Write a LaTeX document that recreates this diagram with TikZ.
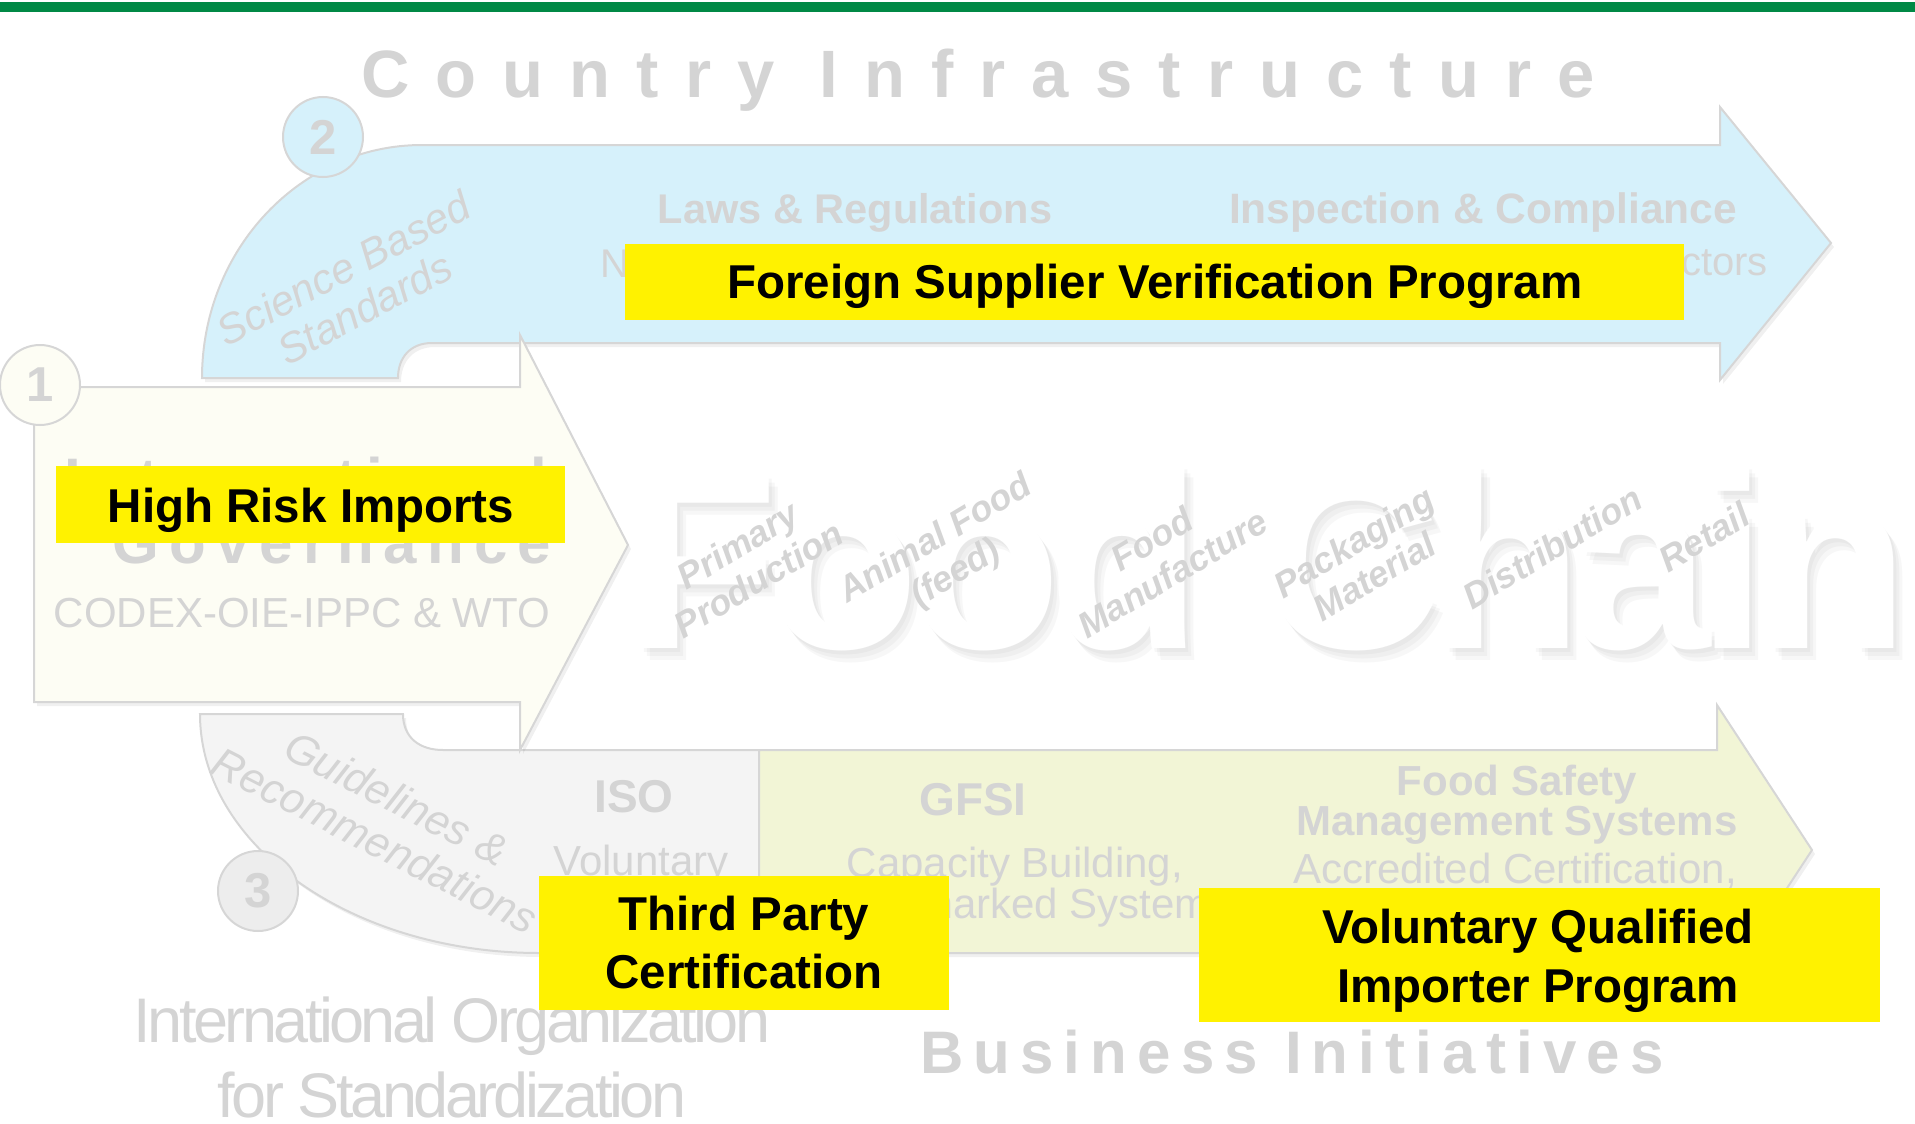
\documentclass[tikz,border=0pt]{standalone}
\usepackage{fontspec}
\setmainfont{Liberation Sans}
\usetikzlibrary{positioning}
\usetikzlibrary{shadows}
\definecolor{barGreen}{RGB}{0,137,69}
\definecolor{ghostGray}{RGB}{212,212,212}
\definecolor{edgeGray}{RGB}{214,214,214}
\definecolor{skyBand}{RGB}{214,241,251}
\definecolor{creamBand}{RGB}{253,253,244}
\definecolor{greyBand}{RGB}{244,244,244}
\definecolor{oliveBand}{RGB}{242,245,214}
\newcommand{\fsz}[1]{\fontsize{#1}{#1}\selectfont}
\newcommand{\chainfont}{\bfseries\fsz{252}\addfontfeature{LetterSpace=-5}}
\tikzstyle{band} = [draw=edgeGray,line width=2pt,drop shadow={opacity=0.12,shadow xshift=3pt,shadow yshift=-4pt}]
\tikzstyle{num} = [circle,draw=edgeGray,line width=2pt,minimum size=80pt,inner sep=0pt,text=ghostGray,font=\bfseries\fsz{49}]
\tikzstyle{ghost} = [text=ghostGray,inner sep=0pt]
\tikzstyle{stage} = [ghost,rotate=31,align=center,font=\bfseries\itshape\fontsize{36}{40}\selectfont]
\tikzstyle{haze} = [anchor=base west,inner sep=0pt,text=black,text opacity=0.03,font=\chainfont]
\tikzstyle{note} = [fill=yellow,inner sep=0pt]
\tikzstyle{hi} = [inner sep=0pt,anchor=base,font=\bfseries\fsz{47.5}]

\begin{document}
\begin{tikzpicture}[x=1pt,y=-1pt]
  \useasboundingbox (0,0) rectangle (1915,1124);
  \fill [barGreen] (0,2) rectangle (1915,12);

  \node [ghost,anchor=base,font={\bfseries\fsz{67}\addfontfeature{LetterSpace=39}}] (country) at (978,98) {Country Infrastructure};

  % the three bands and the governance arrow
  \draw [band,fill=skyBand] (202,378) .. controls (202,249) and (301,145) .. (422,145)
    -- (1720,145) -- (1720,107) -- (1831,243) -- (1720,380) -- (1720,343)
    -- (432,343) .. controls (410,343) and (398,358) .. (398,378) -- cycle;
  \draw [band,fill=greyBand] (200,714) -- (403,714) .. controls (403,738) and (420,750) .. (443,750)
    -- (759,750) -- (759,953) -- (539,953) .. controls (353,953) and (200,846) .. (200,714) -- cycle;
  \draw [band,fill=oliveBand] (759,750) -- (1717,750) -- (1717,705) -- (1812,850)
    -- (1717,995) -- (1717,953) -- (759,953) -- cycle;
  \draw [band,fill=creamBand] (34,387) -- (520,387) -- (520,335) -- (628,545)
    -- (520,750) -- (520,702) -- (34,702) -- cycle;

  \node [num,fill=creamBand] (c1) at (40,385) {1};
  \node [num,fill=skyBand] (c2) at (323,137) {2};
  \node [num,fill=greyBand!97!black] (c3) at (258,891) {3};

  % food chain
  \node [haze] (chainHazeA) at (627,652) {Food Chain};
  \node [haze] (chainHazeB) at (630,656) {Food Chain};
  \node [haze] (chainHazeC) at (633,660) {Food Chain};
  \node [anchor=base west,inner sep=0pt,text=white,font=\chainfont] (chain) at (624,648) {Food Chain};
  \node [stage] (prim) at (748,562) {Primary\\Production};
  \node [stage] (feed) at (946,557) {Animal Food\\(feed)};
  \node [stage] (manu) at (1162,556) {Food\\Manufacture};
  \node [stage] (pack) at (1364,559) {Packaging\\Material};
  \node [stage] (dist) at (1552,547) {Distribution};
  \node [stage] (ret) at (1704,537) {Retail};

  % country infrastructure
  \node [ghost,anchor=base,font=\bfseries\fsz{41.5}] (laws) at (855,223) {Laws \& Regulations};
  \node [ghost,anchor=base,font=\bfseries\fsz{42.5}] (insp) at (1483,223) {Inspection \& Compliance};
  \node [ghost,anchor=base west,font=\fsz{40}] (lawsSub) at (600,277) {N};
  \node [ghost,anchor=base east,font=\fsz{40}] (inspSub) at (1768,275) {ctors};
  \node [ghost,rotate=28,align=center,font=\itshape\fontsize{42}{45}\selectfont] (sci) at (354,288) {Science Based\\Standards};

  % international governance
  \node [ghost,anchor=base,font={\bfseries\fsz{60}\addfontfeature{LetterSpace=17}}] (intl) at (306,500) {International};
  \node [ghost,anchor=base,font={\bfseries\fsz{60}\addfontfeature{LetterSpace=17}}] (gov) at (332,563) {Governance};
  \node [ghost,anchor=base,font=\fsz{42}] (codex) at (302,627) {CODEX-OIE-IPPC \& WTO};

  % standards and business
  \node [ghost,rotate=-27,align=center,font=\itshape\fontsize{43}{47}\selectfont] (guide) at (386,819) {Guidelines \&\\Recommendations};
  \node [ghost,anchor=base,font=\bfseries\fsz{46}] (iso) at (634,812) {ISO};
  \node [ghost,anchor=base,font=\fsz{42}] (vol) at (641,875) {Voluntary};
  \node [ghost,anchor=base,font=\bfseries\fsz{46}] (gfsi) at (973,815) {GFSI};
  \node [ghost,anchor=base,font=\fsz{42}] (cap) at (1015,877) {Capacity Building,};
  \node [ghost,anchor=base,font=\fsz{42}] (bench) at (1015,918) {Benchmarked Systems};
  \node [ghost,anchor=base,font=\bfseries\fsz{42}] (fss) at (1517,795) {Food Safety};
  \node [ghost,anchor=base,font=\bfseries\fsz{42}] (fsms) at (1517,835) {Management Systems};
  \node [ghost,anchor=base,font=\fsz{42}] (accr) at (1515,883) {Accredited Certification,};
  \node [ghost,anchor=base,font={\fsz{63}\addfontfeature{LetterSpace=-5.6}}] (isoA) at (452,1042) {International Organization};
  \node [ghost,anchor=base,font={\fsz{63}\addfontfeature{LetterSpace=-5.6}}] (isoB) at (452,1117) {for Standardization};
  \node [ghost,anchor=base,font={\bfseries\fsz{60}\addfontfeature{LetterSpace=17}}] (biz) at (1292,1073) {Business Initiatives};

  % highlighted programs
  \node [note,minimum width=1059pt,minimum height=76pt] (fsvp) at (1154.5,282) {};
  \node [hi] (fsvpA) at (1155,298) {Foreign Supplier Verification Program};
  \node [note,minimum width=509pt,minimum height=77pt] (hri) at (310.5,504.5) {};
  \node [hi] (hriA) at (311,522) {High Risk Imports};
  \node [note,minimum width=410pt,minimum height=134pt] (tpc) at (744,943) {};
  \node [hi] (tpcA) at (744,930) {Third Party};
  \node [hi] (tpcB) at (744,988) {Certification};
  \node [note,minimum width=681pt,minimum height=134pt] (vqip) at (1539.5,955) {};
  \node [hi] (vqipA) at (1538,943) {Voluntary Qualified};
  \node [hi] (vqipB) at (1538,1002) {Importer Program};
\end{tikzpicture}
\end{document}
